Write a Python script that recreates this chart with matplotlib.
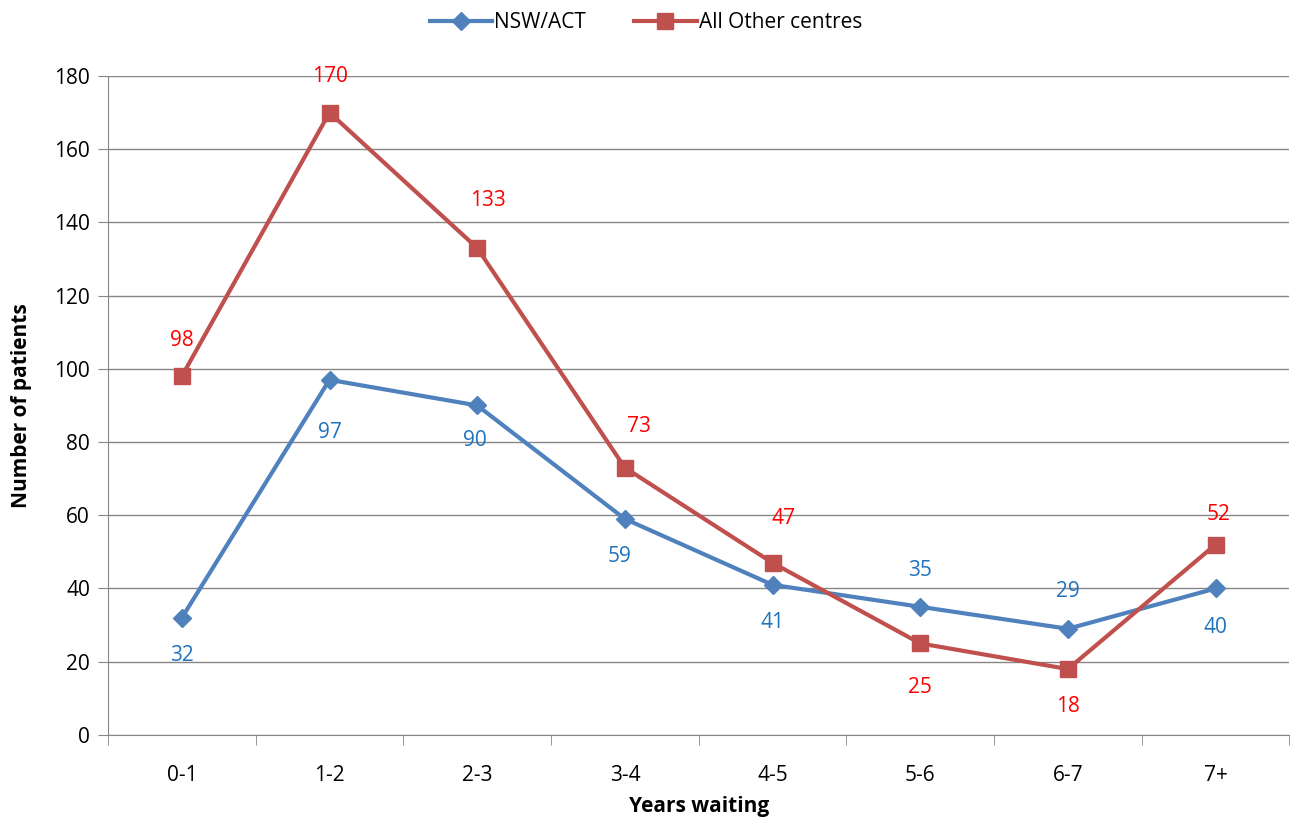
import matplotlib.pyplot as plt

plt.rcParams['font.family'] = ['Open Sans', 'DejaVu Sans']

# Datos
years = ['0-1', '1-2', '2-3', '3-4', '4-5', '5-6', '6-7', '7+']
nsw_act = [32, 97, 90, 59, 41, 35, 29, 40]
other_centres = [98, 170, 133, 73, 47, 25, 18, 52]

# desplazamiento de las etiquetas (puntos)
nsw_offsets = [(0, -27), (0, -38), (-2, -25), (-4, -27), (0, -27), (0, 26), (0, 27), (0, -28)]
other_offsets = [(0, 26), (0, 26), (8, 34), (10, 30), (8, 32), (0, -32), (0, -27), (2, 22)]

blue = '#4F81BD'
red = '#C0504D'

fig = plt.figure(figsize=(12.92, 8.23), dpi=100)
ax = fig.add_axes([0.0836, 0.107, 0.9144, 0.8007])

x = range(len(years))
ax.plot(x, nsw_act, color=blue, lw=3, marker='D', ms=9, label='NSW/ACT', zorder=3)
ax.plot(x, other_centres, color=red, lw=3, marker='s', ms=11, label='All Other centres', zorder=3)

for i, v in enumerate(nsw_act):
    ax.annotate(str(v), (i, v), xytext=nsw_offsets[i], textcoords='offset points',
                ha='center', va='center', color='#1F73BE', fontsize=15)
for i, v in enumerate(other_centres):
    ax.annotate(str(v), (i, v), xytext=other_offsets[i], textcoords='offset points',
                ha='center', va='center', color='#FF0000', fontsize=15)

ax.set_xlim(-0.5, len(years) - 0.5)
ax.set_ylim(0, 180)
ax.set_yticks(range(0, 181, 20))
ax.set_xticks(list(x))
ax.set_xticklabels(years)
ax.set_xticks([i - 0.5 for i in range(len(years) + 1)], minor=True)
ax.tick_params(axis='x', which='major', length=0, pad=22, labelsize=15)
ax.tick_params(axis='x', which='minor', length=7, color='#868686')
ax.tick_params(axis='y', length=7, color='#868686', labelsize=15, pad=6)

ax.grid(axis='y', color='#868686', lw=1)
ax.set_axisbelow(True)
for s in ['top', 'right']:
    ax.spines[s].set_visible(False)
for s in ['left', 'bottom']:
    ax.spines[s].set_color('#868686')

ax.set_xlabel('Years waiting', fontsize=15, fontweight='bold', labelpad=7)
ax.set_ylabel('Number of patients', fontsize=15, fontweight='bold', labelpad=16)

fig.legend(loc='upper center', bbox_to_anchor=(0.5, 1.008), ncol=2, frameon=False,
           fontsize=15, handlelength=3, handletextpad=0.1, columnspacing=2.3)

fig.savefig('out.png', dpi=100)
